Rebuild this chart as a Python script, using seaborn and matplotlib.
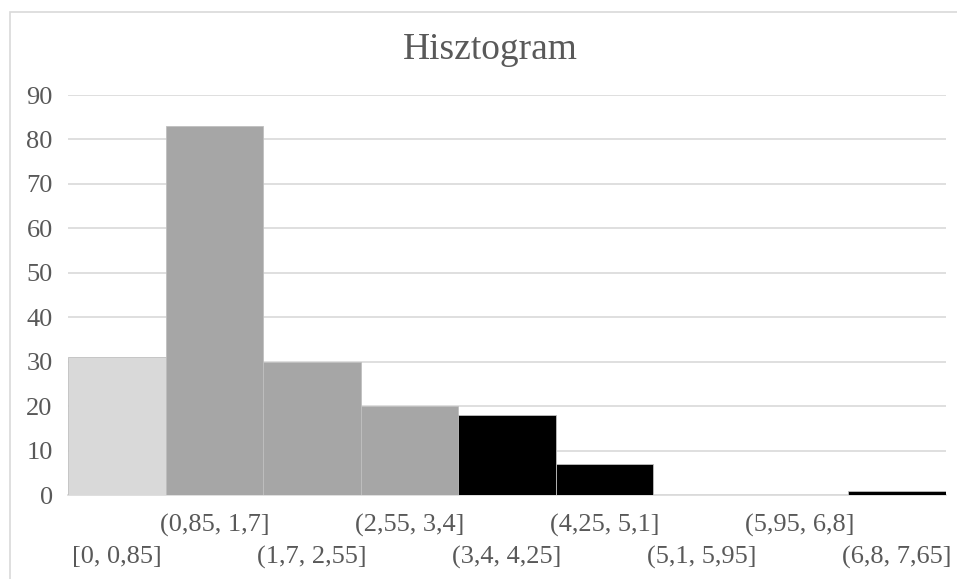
import matplotlib
matplotlib.use("Agg")
import matplotlib.pyplot as plt
import seaborn as sns
from matplotlib.patches import Rectangle

# bins and counts
bins = ["[0, 0,85]", "(0,85, 1,7]", "(1,7, 2,55]", "(2,55, 3,4]", "(3,4, 4,25]",
        "(4,25, 5,1]", "(5,1, 5,95]", "(5,95, 6,8]", "(6,8, 7,65]"]
counts = [31, 83, 30, 20, 18, 7, 0, 0, 1]
colors = ["#d9d9d9", "#a6a6a6", "#a6a6a6", "#a6a6a6",
          "#000000", "#000000", "#000000", "#000000", "#000000"]

sns.set_theme(style="white")
plt.rcParams["font.family"] = ["Liberation Serif", "DejaVu Serif"]
text_col = "#595959"

fig = plt.figure(figsize=(9.57, 5.79), dpi=100)
ax = fig.add_axes([68 / 957, 1 - 495 / 579, (946 - 68) / 957, 400 / 579])

sns.barplot(x=bins, y=counts, hue=bins, palette=colors, width=1.0,
            legend=False, ax=ax, edgecolor="#bfbfbf", linewidth=0.6, zorder=3)

ax.set_ylim(0, 90)
ax.set_xlim(-0.5, len(bins) - 0.5)
ax.set_yticks(range(0, 91, 10))
ax.yaxis.grid(True, color="#d9d9d9", linewidth=1.2, zorder=0)
ax.set_axisbelow(True)
for s in ["top", "right", "left"]:
    ax.spines[s].set_visible(False)
ax.spines["bottom"].set_color("#d9d9d9")
ax.spines["bottom"].set_linewidth(1.2)
ax.set_xlabel("")
ax.set_ylabel("")

ax.tick_params(axis="both", length=0, labelsize=19, labelcolor=text_col)
ax.tick_params(axis="y", pad=11)
ticks = ax.xaxis.get_major_ticks()
for i, t in enumerate(ticks):
    t.set_pad(13.5 if i % 2 else 36.5)

fig.text(490 / 957, 1 - 50 / 579, "Hisztogram", ha="center", va="center",
         fontsize=27, color=text_col)

# chart area border
fig.patches.append(Rectangle((10 / 957, -0.1), 1.1, 1 - 12 / 579 + 0.1,
                             transform=fig.transFigure, fill=False,
                             edgecolor="#d9d9d9", linewidth=1.2))

fig.savefig("out.png", dpi=100)
